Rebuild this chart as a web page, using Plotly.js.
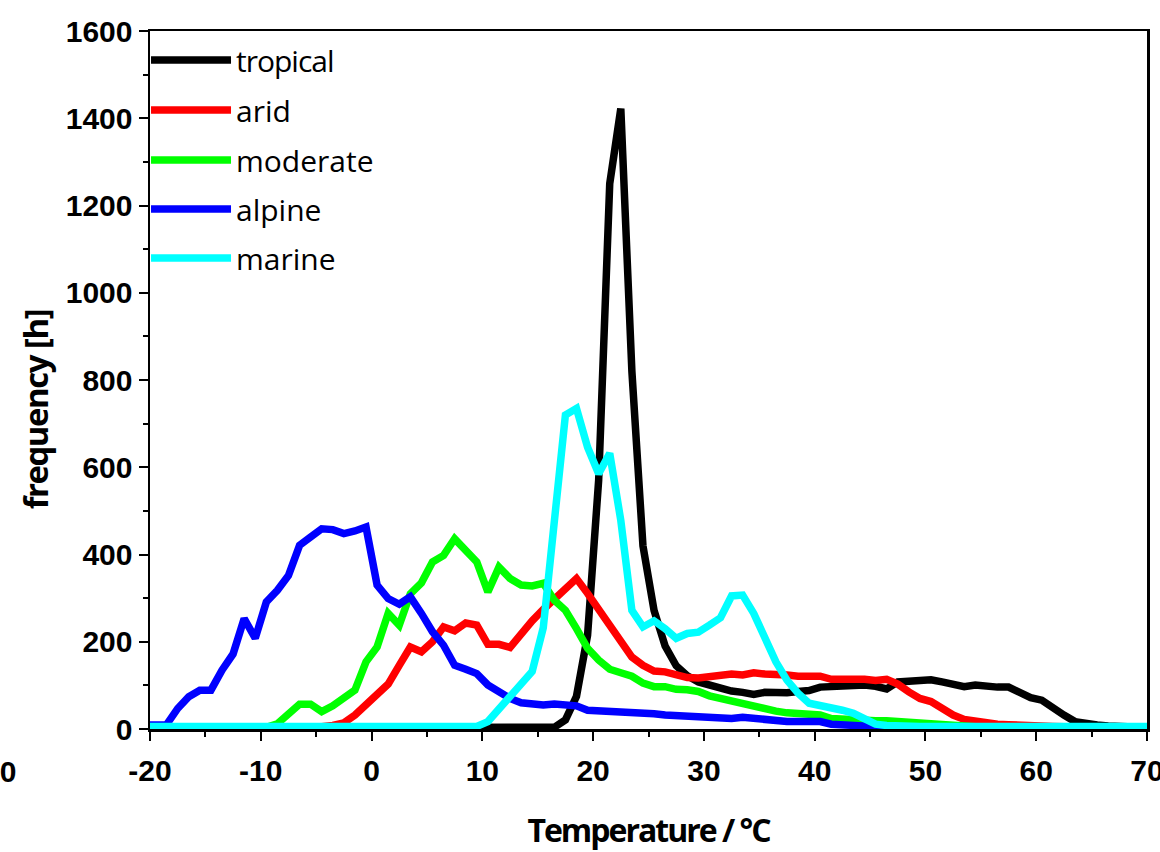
<!DOCTYPE html>
<html>
<head>
<meta charset="utf-8">
<script src="https://cdn.plot.ly/plotly-3.0.1.min.js"></script>
<style>
  html, body { margin: 0; padding: 0; background: #fff; }
  #chart { width: 1160px; height: 852px; }
  #chart .legendtext { letter-spacing: -1px; }
  #chart .xtitle { letter-spacing: -2px; }
  #chart .annotation-text { letter-spacing: -1.5px; }
</style>
</head>
<body>
<div id="chart"></div>
<script>
// Bin centres (°C)
const temperature = [
  -20.5,-19.5,-18.5,-17.5,-16.5,-15.5,-14.5,-13.5,-12.5,-11.5,
  -10.5,-9.5,-8.5,-7.5,-6.5,-5.5,-4.5,-3.5,-2.5,-1.5,
  -0.5,0.5,1.5,2.5,3.5,4.5,5.5,6.5,7.5,8.5,
  9.5,10.5,11.5,12.5,13.5,14.5,15.5,16.5,17.5,18.5,
  19.5,20.5,21.5,22.5,23.5,24.5,25.5,26.5,27.5,28.5,
  29.5,30.5,31.5,32.5,33.5,34.5,35.5,36.5,37.5,38.5,
  39.5,40.5,41.5,42.5,43.5,44.5,45.5,46.5,47.5,48.5,
  49.5,50.5,51.5,52.5,53.5,54.5,55.5,56.5,57.5,58.5,
  59.5,60.5,61.5,62.5,63.5,64.5,65.5,66.5,67.5,68.5,
  69.5,70.5
];

const tropical = [
  2,2,2,2,2,2,2,2,2,2,
  2,2,2,2,2,2,2,2,2,2,
  2,2,2,2,2,2,2,2,2,2,
  2,2,2,2,2,2,2,
  4,21,75,215,570,1250,1422,820,420,272,
  190,145,122,108,100,91,87,84,79,84,
  83,83,86,88,96,98,99,101,101,98,
  92,108,110,112,113,108,101,97,101,97,
  96,96,83,72,66,47,32,17,12,9,
  7,5,4,3,3
];

const arid = [
  3,3,3,3,3,3,3,3,3,3,3,3,3,3,3,3,
  5,8,14,32,55,76,103,146,188,177,
  200,234,225,243,238,194,194,187,219,248,
  274,299,318,345,311,276,242,204,165,146,
  133,131,124,118,117,120,121,126,124,129,
  126,126,124,121,121,121,114,116,114,114,
  111,114,103,85,70,63,45,32,22,17,
  14,11,10,8,8,7,6,
  5,5,5,5,5,5,5,5,5
];

const moderate = [
  4,4,4,4,4,4,4,4,4,4,4,4,
  12,32,57,57,40,53,70,89,154,188,
  265,238,310,335,383,398,436,411,383,314,
  371,345,330,328,334,295,272,230,185,158,
  137,129,121,105,97,97,91,90,86,76,
  70,63,55,52,46,41,37,36,34,32,
  24,22,21,19,19,19,17,14,14,11,
  9,7,
  5,5,5,5,5,5,5,5,5,5,5,5,5,5,5,5,5,5
];

const alpine = [
  9,9,10,47,74,89,89,135,172,253,
  208,291,318,352,421,440,459,457,448,454,
  463,330,299,286,303,265,223,192,146,137,
  127,101,83,70,60,57,55,57,55,53,
  43,42,42,40,37,36,35,32,30,30,
  28,25,24,24,27,24,20,17,17,17,
  17,17,11,9,9,5,
  4,4,4,4,4,4,4,4,4,4,4,4,4,4,4,4,4,4,4,4,4,4,4,4,4,4
];

const marine = [
  6,6,6,6,6,6,6,6,6,6,6,6,6,6,6,6,6,6,6,6,6,6,6,6,6,6,6,6,6,6,6,
  17,45,74,103,132,232,460,720,735,646,
  585,632,478,272,234,248,230,208,219,222,
  238,255,305,307,265,206,154,112,82,59,
  55,51,43,36,22,11,8,
  6,6,6,6,6,6,6,6,6,6,6,6,6,6,6,6,6,6,6,6,6,6,6,6
];

const seriesNames = ['tropical', 'arid', 'moderate', 'alpine', 'marine'];
const seriesValues = [tropical, arid, moderate, alpine, marine];
const seriesColors = ['#000000', '#ff0000', '#00ff00', '#0000ff', '#00ffff'];

const xTickVals = [-20, -10, 0, 10, 20, 30, 40, 50, 60, 70];
const yTickVals = [0, 200, 400, 600, 800, 1000, 1200, 1400, 1600];

const legendIds = ['legend', 'legend2', 'legend3', 'legend4', 'legend5'];

const traces = seriesNames.map((name, i) => ({
  type: 'scatter',
  mode: 'lines',
  name: name,
  x: temperature,
  y: seriesValues[i],
  legend: legendIds[i],
  line: { color: seriesColors[i], width: 7.5, shape: 'linear' },
  hoverinfo: 'x+y+name'
}));

const tickFont = { family: 'Liberation Sans, Arial, sans-serif', size: 30, color: '#000', weight: 'bold' };
const titleFont = { family: 'Open Sans, Noto Sans, sans-serif', size: 32, color: '#000', weight: 'bold' };
const yTitleFont = { family: 'Open Sans, Noto Sans, sans-serif', size: 33, color: '#000', weight: 'bold' };
const legendFont = { family: 'Open Sans, Noto Sans, sans-serif', size: 30, color: '#000' };

// legend entry centres in paper coords (one legend per series, stacked)
const legendY = [0.9585, 0.8868, 0.8152, 0.745, 0.6748];

const layout = {
  width: 1160,
  height: 852,
  margin: { l: 150, r: 13, t: 31, b: 123 },
  paper_bgcolor: '#ffffff',
  plot_bgcolor: '#ffffff',
  showlegend: true,
  xaxis: {
    range: [-20, 70],
    tickmode: 'array',
    tickvals: xTickVals,
    ticktext: xTickVals.map(String),
    ticks: 'outside', ticklen: 9, tickwidth: 2, tickcolor: '#000',
    ticklabelstandoff: 4,
    ticklabeloverflow: 'allow',
    minor: { tickmode: 'linear', tick0: -20, dtick: 5, ticks: 'outside', ticklen: 5, tickwidth: 2, tickcolor: '#000', showgrid: false },
    showline: true, linecolor: '#000', linewidth: 2.5, mirror: true,
    showgrid: false, zeroline: false,
    tickfont: tickFont,
    title: { text: 'Temperature / °C', font: titleFont, standoff: 34 }
  },
  yaxis: {
    range: [0, 1600],
    tickmode: 'array',
    tickvals: yTickVals,
    ticktext: yTickVals.map(String),
    ticks: 'outside', ticklen: 9, tickwidth: 2, tickcolor: '#000',
    ticklabeloverflow: 'allow',
    minor: { tickmode: 'linear', tick0: 0, dtick: 100, ticks: 'outside', ticklen: 5, tickwidth: 2, tickcolor: '#000', showgrid: false },
    showline: true, linecolor: '#000', linewidth: 2.5, mirror: true,
    showgrid: false, zeroline: false,
    tickfont: tickFont
  },
  annotations: [
    { xref: 'paper', yref: 'paper', x: -0.1434, y: -0.0602, xanchor: 'center', yanchor: 'middle',
      text: '0', showarrow: false, font: tickFont },
    { xref: 'paper', yref: 'paper', x: -0.1153, y: 0.457, xanchor: 'center', yanchor: 'middle',
      text: 'frequency [h]', textangle: -90, showarrow: false, font: yTitleFont }
  ]
};

legendIds.forEach((id, i) => {
  layout[id] = {
    x: -0.004, y: legendY[i], xanchor: 'left', yanchor: 'middle',
    bgcolor: 'rgba(0,0,0,0)',
    font: legendFont,
    itemwidth: 80
  };
});

Plotly.newPlot('chart', traces, layout, { displayModeBar: false, staticPlot: true });
</script>
</body>
</html>
